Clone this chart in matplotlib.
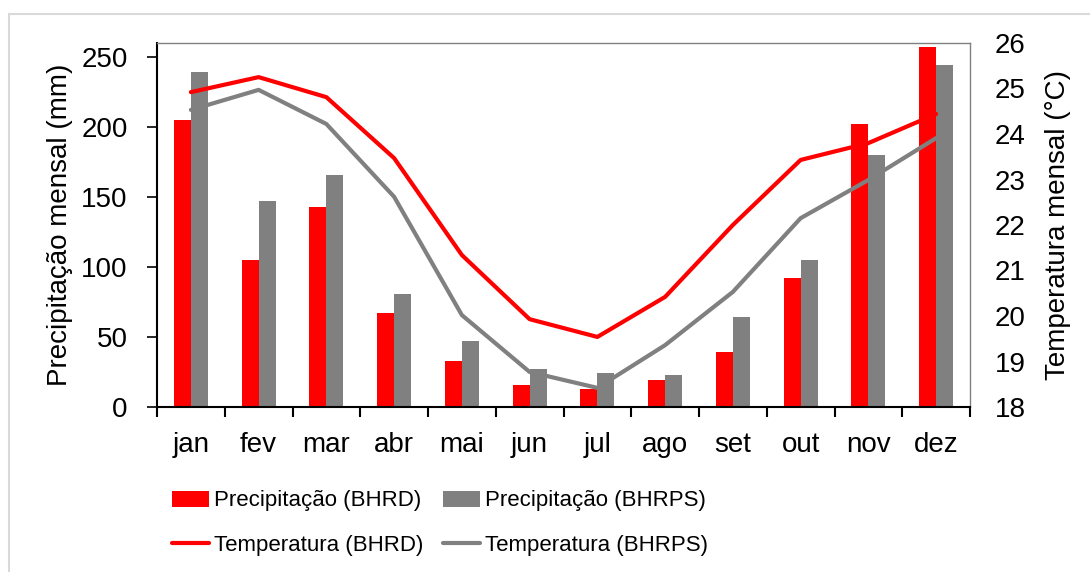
import matplotlib.pyplot as plt
from matplotlib.patches import Rectangle
import numpy as np

months = ['jan', 'fev', 'mar', 'abr', 'mai', 'jun', 'jul', 'ago', 'set', 'out', 'nov', 'dez']
prec_bhrd = [205, 105, 143, 67, 33, 16, 13, 19, 39, 92, 202, 257]
prec_bhrps = [239, 147, 166, 81, 47, 27, 24, 23, 64, 105, 180, 244]
temp_bhrd = [24.92, 25.25, 24.81, 23.47, 21.34, 19.93, 19.54, 20.42, 22.0, 23.43, 23.8, 24.44]
temp_bhrps = [24.53, 24.97, 24.22, 22.62, 20.02, 18.77, 18.42, 19.36, 20.53, 22.15, 22.99, 23.91]

plt.rcParams['font.family'] = ['Liberation Sans', 'DejaVu Sans']
plt.rcParams['font.size'] = 20

W, H = 1090, 572
fig = plt.figure(figsize=(W / 100, H / 100), dpi=100)
ax = fig.add_axes([157 / W, 1 - 407 / H, (970 - 157) / W, (407 - 43) / H])

# outer frame
fig.patches.append(Rectangle((9 / W, -0.1), 1.2, 1 - 14 / H + 0.1, transform=fig.transFigure,
                             fill=False, edgecolor='#d9d9d9', lw=1.5))

x = np.arange(len(months))
bw = 0.25
b1 = ax.bar(x - bw / 2, prec_bhrd, bw, color='#ff0000', zorder=2)
b2 = ax.bar(x + bw / 2, prec_bhrps, bw, color='#808080', zorder=2)

ax.set_xlim(-0.5, 11.5)
ax.set_ylim(0, 260)
ax.set_yticks(range(0, 251, 50))
ax.set_xticks(x)
ax.set_xticklabels(months)
ax.tick_params(axis='x', length=0, pad=18)
ax.set_xticks(np.arange(-0.5, 12, 1), minor=True)
ax.tick_params(axis='x', which='minor', length=7, width=1.5, direction='out')
ax.tick_params(axis='y', length=7, width=1.2, direction='out', pad=14)
ax.set_ylabel('Precipitação mensal (mm)', labelpad=6)
for s in ['left', 'bottom']:
    ax.spines[s].set_color('black')
    ax.spines[s].set_linewidth(1.5)
for s in ['top', 'right']:
    ax.spines[s].set_color('#808080')
    ax.spines[s].set_linewidth(1)

ax2 = ax.twinx()
l1, = ax2.plot(x, temp_bhrd, color='#ff0000', lw=3, solid_capstyle='round', zorder=3)
l2, = ax2.plot(x, temp_bhrps, color='#808080', lw=3, solid_capstyle='round', zorder=3)
ax2.set_ylim(18, 26)
ax2.set_yticks(range(18, 27))
ax2.tick_params(axis='y', length=0, pad=18)
ax2.set_ylabel('Temperatura mensal (°C)', labelpad=14)
for s in ['top', 'right', 'left', 'bottom']:
    ax2.spines[s].set_visible(False)

# column-major fill so rows are precip / temp
fig.legend([b1, l1, b2, l2],
           ['Precipitação (BHRD)', 'Temperatura (BHRD)', 'Precipitação (BHRPS)', 'Temperatura (BHRPS)'],
           ncol=2, loc='center', bbox_to_anchor=(440 / W, 1 - 523 / H), frameon=False,
           handlelength=1.66, handleheight=0.72, handletextpad=0.2, columnspacing=0.9,
           labelspacing=1.04, fontsize=16)

fig.savefig('out.png', dpi=100)
